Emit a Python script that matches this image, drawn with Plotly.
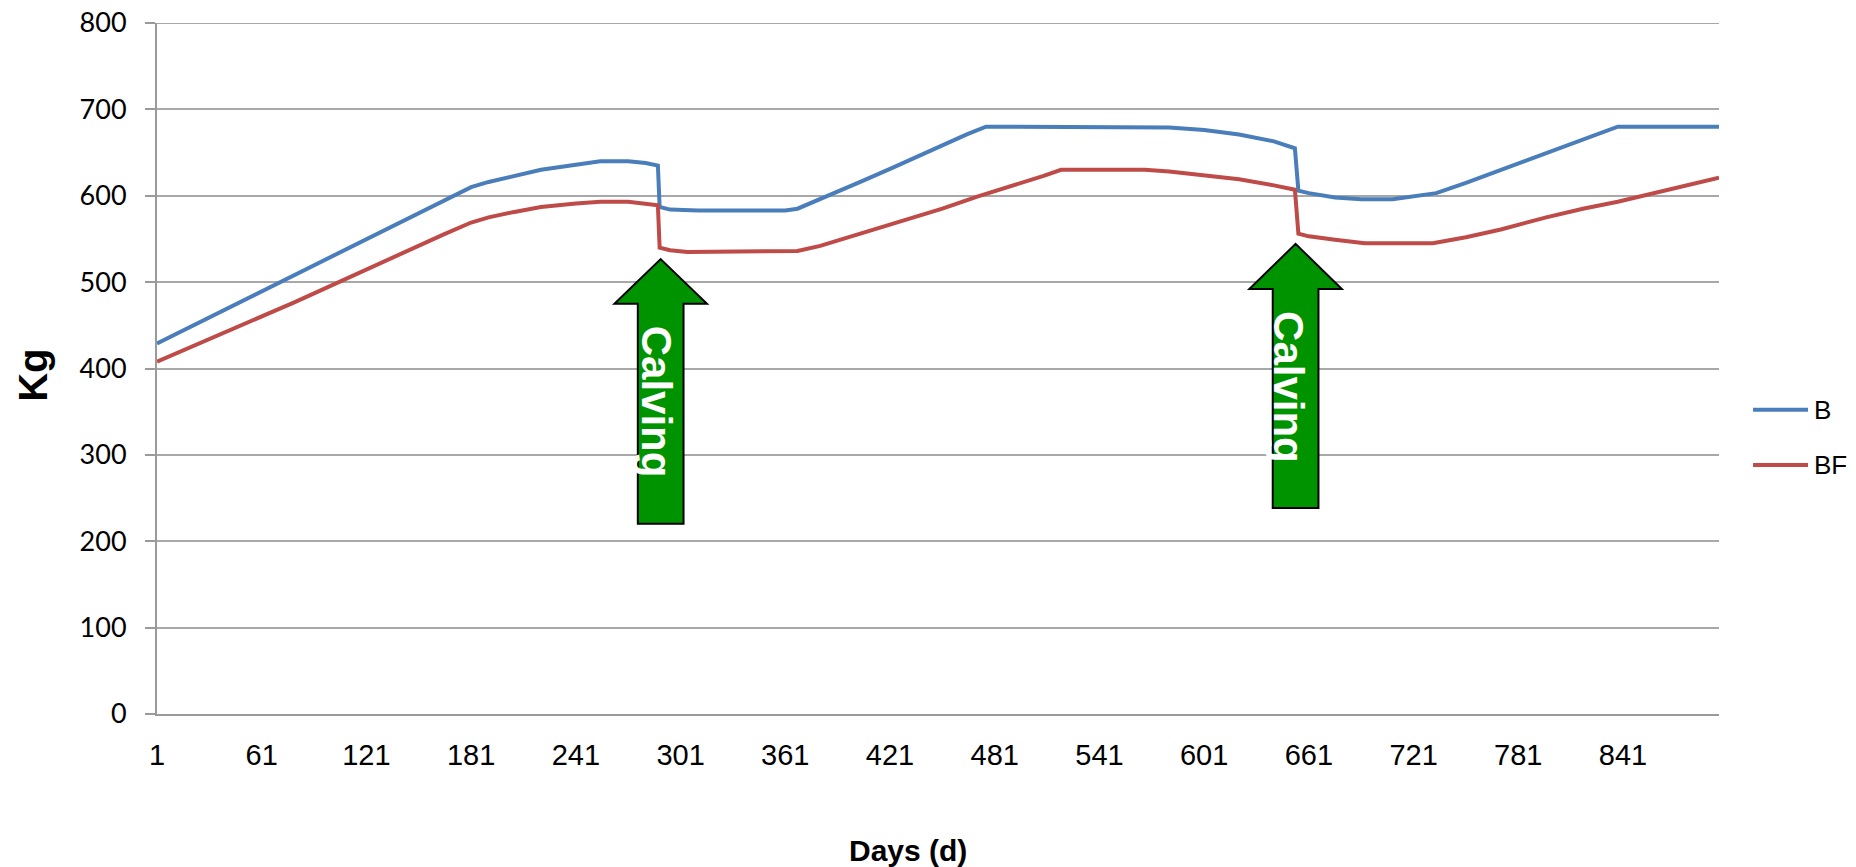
import plotly.graph_objects as go

# ---- data ----
days_B = [1, 15, 30, 45, 61, 75, 91, 105, 121, 135, 151, 165, 175, 181, 191, 205, 221, 241, 255, 271, 281, 288,
          289, 295, 311, 331, 351, 361, 368, 381, 391, 405, 422, 436, 451, 465, 476, 491, 511, 531, 551, 561,
          581, 601, 621, 641, 653, 655, 661, 676, 691, 709, 721, 734, 751, 766, 781, 796, 811, 826, 838, 851,
          871, 896]
B = [429, 443, 458, 473, 489, 503, 519, 533, 549, 563, 579, 593, 604, 610, 616, 623, 630, 636, 640, 640, 638, 635,
     587, 584, 583, 583, 583, 583, 585, 596, 605, 617, 632, 645, 658, 671, 680, 680, 680, 680, 680, 680,
     679, 676, 671, 663, 655, 606, 603, 598, 596, 596, 599, 603, 615, 626, 637, 649, 660, 671, 680, 680,
     680, 680]

days_BF = [1, 15, 30, 45, 61, 79, 91, 105, 121, 135, 151, 165, 181, 191, 205, 221, 241, 255, 271, 281, 288,
           289, 295, 305, 331, 361, 368, 381, 391, 405, 421, 436, 451, 471, 481, 495, 509, 519, 541, 567,
           581, 601, 621, 641, 653, 655, 661, 676, 693, 711, 732, 751, 771, 797, 818, 838, 861, 881, 896]
BF = [408, 420, 433, 446, 460, 476, 487, 500, 514, 527, 542, 555, 569, 575, 581, 587, 591, 593, 593, 591, 589,
      540, 537, 535, 535, 535, 536, 542, 548, 557, 566, 576, 585, 599, 605, 614, 623, 630, 630, 630,
      628, 624, 619, 612, 607, 556, 553, 549, 545, 545, 545, 552, 561, 575, 585, 593, 604, 613, 621]

tick_days = [1, 61, 121, 181, 241, 301, 361, 421, 481, 541, 601, 661, 721, 781, 841]
y_ticks = [0, 100, 200, 300, 400, 500, 600, 700, 800]

series_names = ["B", "BF"]
series_colors = ["#4A7EBB", "#BE4B48"]

# calving arrows (day of tip, tip / neck / base values in kg)
calving_days = [289.6, 653.4]
arrow_tip = [526.6, 544.3]
arrow_neck = [474.9, 491.9]
arrow_base = [220.3, 238.4]
label_day = [287.2, 649.3]
label_val = [361, 378]
head_half = 26.5   # days
shaft_half = 13.1  # days

fig = go.Figure()
fig.add_trace(go.Scatter(x=days_B, y=B, mode="lines", name=series_names[0],
                         line=dict(color=series_colors[0], width=4), showlegend=False))
fig.add_trace(go.Scatter(x=days_BF, y=BF, mode="lines", name=series_names[1],
                         line=dict(color=series_colors[1], width=4), showlegend=False))

shapes = []
annotations = []

# top gridline (plotly skips the grid line on the plot edge)
shapes.append(dict(type="line", xref="paper", yref="y", x0=0, x1=1, y0=y_ticks[-1], y1=y_ticks[-1],
                   line=dict(color="#A8A8A8", width=2), layer="below"))

for d, tip, neck, base, ld, lv in zip(calving_days, arrow_tip, arrow_neck, arrow_base, label_day, label_val):
    path = (f"M {d} {tip} L {d + head_half} {neck} L {d + shaft_half} {neck} L {d + shaft_half} {base} "
            f"L {d - shaft_half} {base} L {d - shaft_half} {neck} L {d - head_half} {neck} Z")
    shapes.append(dict(type="path", xref="x", yref="y", path=path,
                       fillcolor="#009300", line=dict(color="black", width=2)))
    annotations.append(dict(x=ld, y=lv, xref="x", yref="y", text="<b>Calving</b>", showarrow=False,
                            textangle=90, font=dict(family="Liberation Sans, Arial", size=42, color="white")))

# custom legend
leg_y = [0.4402, 0.3605]
for name, col, ly in zip(series_names, series_colors, leg_y):
    shapes.append(dict(type="line", xref="paper", yref="paper", x0=1.0218, x1=1.057, y0=ly, y1=ly,
                       line=dict(color=col, width=4)))
    annotations.append(dict(x=1.0595, y=ly, xref="paper", yref="paper", text=name, showarrow=False,
                            xanchor="left", yanchor="middle",
                            font=dict(family="Liberation Sans Narrow, Arial", size=26, color="black")))

annotations.append(dict(x=-0.0794, y=0.4908, xref="paper", yref="paper", text="<b>Kg</b>", showarrow=False,
                        textangle=-90, xanchor="center", yanchor="middle",
                        font=dict(family="Liberation Sans Narrow, Arial", size=40, color="black")))
annotations.append(dict(x=0.4808, y=-0.1977, xref="paper", yref="paper", text="<b>Days (d)</b>",
                        showarrow=False, xanchor="center", yanchor="middle",
                        font=dict(family="Liberation Sans Narrow, Arial", size=30, color="black")))

# the page body adds an 8px margin on the top-left, so the figure is offset by 8px
fig.update_layout(
    width=1848, height=859,
    margin=dict(l=149, r=137, t=15, b=153, autoexpand=False),
    paper_bgcolor="white", plot_bgcolor="white",
    shapes=shapes, annotations=annotations,
    showlegend=False,
)
fig.update_xaxes(range=[1, 896], tickvals=tick_days, ticktext=[str(t) for t in tick_days],
                 showgrid=False, zeroline=False, showline=True, linecolor="#9A9A9A", linewidth=2,
                 ticks="", ticklabelstandoff=14, ticklabeloverflow="allow", automargin=False,
                 tickfont=dict(family="Liberation Sans Narrow, Arial", size=29, color="black"))
fig.update_yaxes(range=[0, 800], tickvals=y_ticks, showgrid=True, gridcolor="#A8A8A8", gridwidth=2,
                 zeroline=False, showline=True, linecolor="#9A9A9A", linewidth=2,
                 ticks="outside", ticklen=10, tickcolor="#9A9A9A", tickwidth=2, ticklabelstandoff=13,
                 ticklabeloverflow="allow", automargin=False,
                 tickfont=dict(family="Lato, DejaVu Sans", size=27, color="black"))

fig.write_html("out.html")
